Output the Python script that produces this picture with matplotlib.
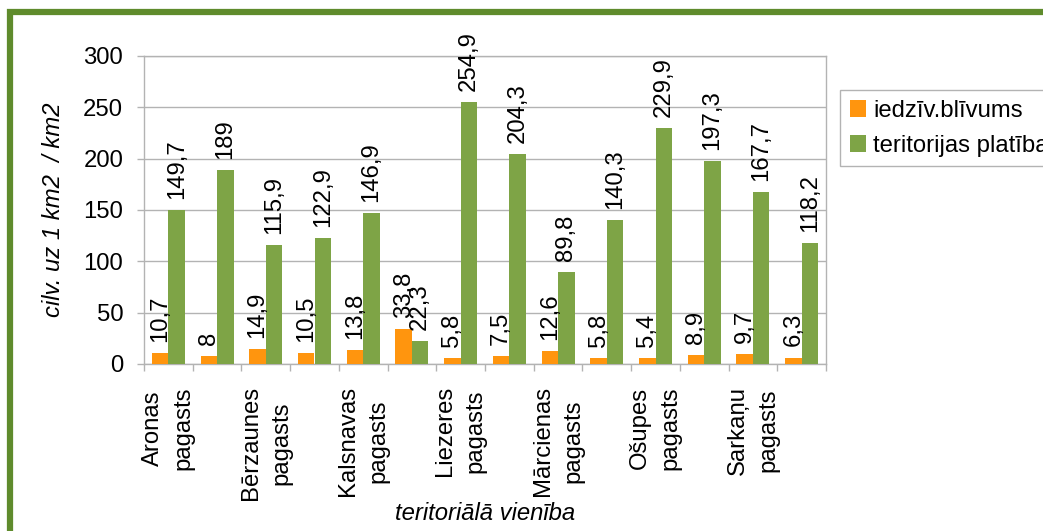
import matplotlib.pyplot as plt
import numpy as np
from matplotlib.patches import Rectangle

plt.rcParams["font.family"] = ["Liberation Sans", "DejaVu Sans"]

# data
territories = [
    "Aronas pagasts", "Barkavas pagasts", "Bērzaunes pagasts", "Dzelzavas pagasts",
    "Kalsnavas pagasts", "Lazdonas pagasts", "Liezeres pagasts", "Ļaudonas pagasts",
    "Mārcienas pagasts", "Mētrienas pagasts", "Ošupes pagasts", "Praulienas pagasts",
    "Sarkaņu pagasts", "Vestienas pagasts",
]
density = [10.7, 8, 14.9, 10.5, 13.8, 33.8, 5.8, 7.5, 12.6, 5.8, 5.4, 8.9, 9.7, 6.3]
area = [149.7, 189, 115.9, 122.9, 146.9, 22.3, 254.9, 204.3, 89.8, 140.3, 229.9, 197.3, 167.7, 118.2]
series_names = ["iedzīv.blīvums", "teritorijas platība"]
yticks = [0, 50, 100, 150, 200, 250, 300]

ORANGE = "#ff950e"
GREEN = "#7ea446"
GRID = "#b3b3b3"
FS = 17.2

fig = plt.figure(figsize=(10.43, 5.31), dpi=100)
W, H = 1043, 531
ax = fig.add_axes([144 / W, 1 - 364 / H, (826 - 144) / W, (364 - 56) / H])

x = np.arange(len(territories))
bw = 0.34
b1 = ax.bar(x - bw / 2, density, bw, color=ORANGE, label=series_names[0], zorder=3)
b2 = ax.bar(x + bw / 2, area, bw, color=GREEN, label=series_names[1], zorder=3)


def fmt(vals):
    return [f"{v:g}".replace(".", ",") for v in vals]


ax.bar_label(b1, labels=fmt(density), rotation=90, padding=8, fontsize=FS)
ax.bar_label(b2, labels=fmt(area), rotation=90, padding=8, fontsize=FS)

ax.set_xlim(-0.5, len(territories) - 0.5)
ax.set_ylim(0, 300)
ax.set_yticks(yticks)
ax.tick_params(axis="y", length=5, width=1, color=GRID, pad=10, labelsize=FS)
ax.yaxis.grid(True, color=GRID, linewidth=1, zorder=0)
ax.set_axisbelow(True)

# boundary ticks between categories, labels on every other category
ax.set_xticks(np.arange(-0.5, len(territories), 1.0))
ax.set_xticklabels([])
ax.tick_params(axis="x", which="major", length=5, width=1, color=GRID)
ax.set_xticks(x[::2], minor=True)
ax.set_xticklabels([t.replace(" ", "\n") for t in territories[::2]], minor=True,
                   rotation=90, ha="center", va="top", multialignment="center",
                   linespacing=1.5, fontsize=FS)
ax.tick_params(axis="x", which="minor", length=0, pad=16)

for s in ax.spines.values():
    s.set_color(GRID)
    s.set_linewidth(1)

ax.set_ylabel("cilv. uz 1 km2  / km2", fontsize=FS, style="italic")
ax.yaxis.set_label_coords(-(144 - 65) / (826 - 144), 0.5)
fig.text(485 / W, 1 - 513 / H, "teritoriālā vienība", fontsize=FS, style="italic",
         ha="center", va="center")

fig.legend(loc="upper left", bbox_to_anchor=(840 / W, 1 - 90 / H), fontsize=FS,
           frameon=True, fancybox=False, edgecolor=GRID, framealpha=1,
           handlelength=0.7, handleheight=0.7, handletextpad=0.3,
           labelspacing=0.55, borderpad=0.4, borderaxespad=0)

fig.add_artist(Rectangle((10 / W, -0.2), 1.2, 1.2 - 12 / H, transform=fig.transFigure,
                         fill=False, edgecolor="#5f8b2c", linewidth=4.5))

fig.savefig("out.png", dpi=100, facecolor="white")
